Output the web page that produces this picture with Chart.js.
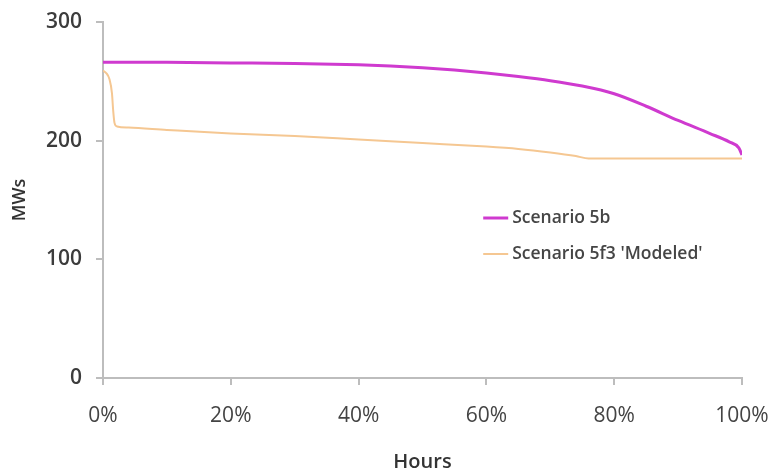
<!DOCTYPE html>
<html>
<head>
<meta charset="utf-8">
<script src="https://cdn.jsdelivr.net/npm/chart.js@4.4.1/dist/chart.umd.min.js"></script>
<style>
  html, body { margin: 0; padding: 0; background: #fff; }
  #wrap { width: 777px; height: 472px; }
</style>
</head>
<body>
<div id="wrap"><canvas id="mwChart"></canvas></div>
<script>
// Scenario 5b
const hours5b = [0, 10, 20, 30, 40, 45, 50, 55, 60, 65, 70, 75, 80, 85, 90, 95, 98, 99.5, 100];
const mw5b = [266, 266, 265.5, 265, 264, 263, 261.5, 259.5, 257, 254, 250.5, 246, 239.5, 229, 217, 206, 199, 194, 188];

// Scenario 5f3 'Modeled'
const hours5f3 = [0, 0.5, 1, 1.4, 1.6, 1.8, 2.2, 4, 10, 20, 30, 40, 50, 60, 65, 70, 74, 76, 80, 90, 100];
const mw5f3 = [259, 257, 252, 240, 225, 215, 212, 211, 209, 206, 204, 201, 198, 195, 193, 190, 187, 185, 185, 185, 185];

const xTicks = [0, 20, 40, 60, 80, 100];
const seriesNames = ['Scenario 5b', "Scenario 5f3 'Modeled'"];

const toPoints = (xs, ys) => xs.map((x, i) => ({ x: x, y: ys[i] }));

// legend drawn inside plot area
const insideLegend = {
  id: 'insideLegend',
  afterDraw(chart) {
    const ctx = chart.ctx;
    const area = chart.chartArea;
    const x0 = area.left + (area.right - area.left) * 0.595;
    const rows = [area.top + 196, area.top + 232];
    ctx.save();
    chart.data.datasets.forEach((ds, i) => {
      ctx.strokeStyle = ds.borderColor;
      ctx.lineWidth = ds.borderWidth;
      ctx.beginPath();
      ctx.moveTo(x0, rows[i]);
      ctx.lineTo(x0 + 25, rows[i]);
      ctx.stroke();
      ctx.fillStyle = '#454545';
      ctx.font = '600 17.5px "Open Sans", sans-serif';
      ctx.textBaseline = 'middle';
      ctx.fillText(ds.label, x0 + 29, rows[i]);
    });
    ctx.restore();
  }
};

new Chart(document.getElementById('mwChart'), {
  type: 'line',
  data: {
    datasets: [
      {
        label: seriesNames[0],
        data: toPoints(hours5b, mw5b),
        borderColor: '#cf3acf',
        borderWidth: 3,
        pointRadius: 0,
        cubicInterpolationMode: 'monotone'
      },
      {
        label: seriesNames[1],
        data: toPoints(hours5f3, mw5f3),
        borderColor: '#f5c792',
        borderWidth: 2,
        pointRadius: 0,
        cubicInterpolationMode: 'monotone'
      }
    ]
  },
  options: {
    responsive: true,
    maintainAspectRatio: false,
    animation: false,
    layout: { padding: { top: 22, right: 35, left: 0, bottom: 0 } },
    scales: {
      x: {
        type: 'linear',
        min: 0,
        max: 100,
        afterBuildTicks: axis => { axis.ticks = xTicks.map(v => ({ value: v })); },
        afterFit: s => { s.height = 94; s.paddingLeft = 0; s.paddingRight = 0; },
        ticks: {
          callback: v => v + '%',
          color: '#444',
          font: { family: '"Open Sans", sans-serif', size: 21 },
          padding: 18,
          maxRotation: 0
        },
        grid: { drawOnChartArea: false, drawTicks: true, tickLength: 7, color: '#bdbdbd', lineWidth: 2 },
        border: { display: true, color: '#bdbdbd', width: 2 },
        title: {
          display: true,
          text: 'Hours',
          color: '#333',
          font: { family: '"Open Sans", sans-serif', size: 20, weight: '600', lineHeight: 1 },
          padding: { top: 0, bottom: 0 }
        }
      },
      y: {
        min: 0,
        max: 300,
        afterFit: s => { s.width = 103; s.paddingTop = 0; s.paddingBottom = 0; },
        ticks: {
          stepSize: 100,
          color: '#3c3c3c',
          font: { family: '"Open Sans", sans-serif', size: 21, weight: '600' },
          padding: 14
        },
        grid: { drawOnChartArea: false, drawTicks: true, tickLength: 7, color: '#bdbdbd', lineWidth: 2 },
        border: { display: true, color: '#bdbdbd', width: 2 },
        title: {
          display: true,
          text: 'MWs',
          color: '#333',
          font: { family: '"Open Sans", sans-serif', size: 18, weight: '600' },
          padding: { top: 9, bottom: 0 }
        }
      }
    },
    plugins: {
      legend: { display: false },
      tooltip: { enabled: false }
    }
  },
  plugins: [insideLegend]
});
</script>
</body>
</html>
